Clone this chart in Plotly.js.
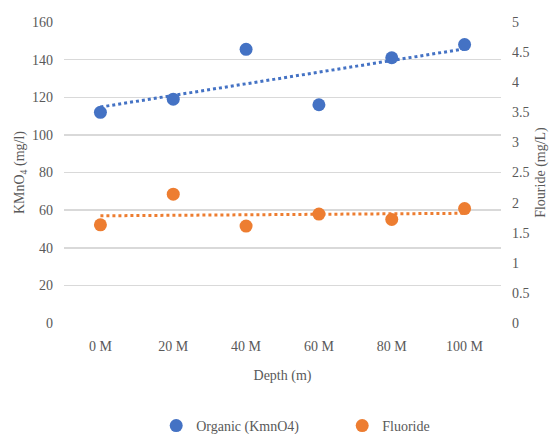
<!DOCTYPE html>
<html><head><meta charset="utf-8">
<script src="https://cdn.plot.ly/plotly-3.0.1.min.js"></script>
<style>body{margin:0;padding:0;background:#fff}#chart{width:549px;height:434px}</style>
</head><body><div id="chart"></div>
<script>
const depths = ["0 M","20 M","40 M","60 M","80 M","100 M"];
const organic = [112, 119, 145.5, 116, 141, 148];
const fluoride = [1.63, 2.14, 1.61, 1.81, 1.72, 1.90];

function linfit(ys){
  const n = ys.length; const xs = ys.map((_,i)=>i);
  const mx = xs.reduce((a,b)=>a+b,0)/n, my = ys.reduce((a,b)=>a+b,0)/n;
  let sxy=0, sxx=0;
  for(let i=0;i<n;i++){sxy+=(xs[i]-mx)*(ys[i]-my); sxx+=(xs[i]-mx)**2;}
  const m = sxy/sxx, b = my - m*mx;
  return xs.map(x=>m*x+b);
}

const blue = "#4472C4", orange = "#ED7D31";
const font = {family:"'Liberation Serif', 'Times New Roman', Times, serif", size:14, color:"#595959"};

const traces = [
  {x:depths, y:linfit(organic), type:"scatter", mode:"lines", line:{color:blue, width:3, dash:"dot"}, showlegend:false, hoverinfo:"skip"},
  {x:depths, y:linfit(fluoride), type:"scatter", mode:"lines", yaxis:"y2", line:{color:orange, width:3, dash:"dot"}, showlegend:false, hoverinfo:"skip"},
  {x:depths, y:organic, type:"scatter", mode:"markers", name:"Organic (KmnO4)", marker:{color:blue, size:13}},
  {x:depths, y:fluoride, type:"scatter", mode:"markers", name:"Fluoride", yaxis:"y2", marker:{color:orange, size:13}}
];

const layout = {
  width:549, height:434,
  margin:{l:64, r:48, t:22, b:111, autoexpand:false},
  paper_bgcolor:"#fff", plot_bgcolor:"#fff",
  font:font,
  showlegend:true,
  legend:{orientation:"h", x:0.211, xanchor:"left", y:-0.342, yanchor:"middle",
          entrywidth:141, entrywidthmode:"pixels", font:font, itemwidth:30, tracegroupgap:0},
  xaxis:{type:"category", range:[-0.5,5.5], showgrid:false, zeroline:false, showline:false,
         ticks:"", tickfont:font, ticklabelstandoff:13,
         title:{text:"Depth (m)", font:font, standoff:17}},
  yaxis:{range:[0,160], dtick:20, showgrid:true, gridcolor:"#d9d9d9", gridwidth:1.5,
         zeroline:false, showline:false, ticks:"", tickfont:font, ticklabelstandoff:10,
         title:{text:"KMnO<sub>4</sub> (mg/l)", font:font, standoff:4}},
  yaxis2:{range:[0,5], dtick:0.5, overlaying:"y", side:"right", showgrid:false, zeroline:false,
          showline:false, ticks:"", tickfont:font, ticklabelstandoff:10,
          title:{text:"Flouride (mg/L)", font:font, standoff:8}}
};

Plotly.newPlot("chart", traces, layout, {displayModeBar:false, staticPlot:true});
</script></body></html>
